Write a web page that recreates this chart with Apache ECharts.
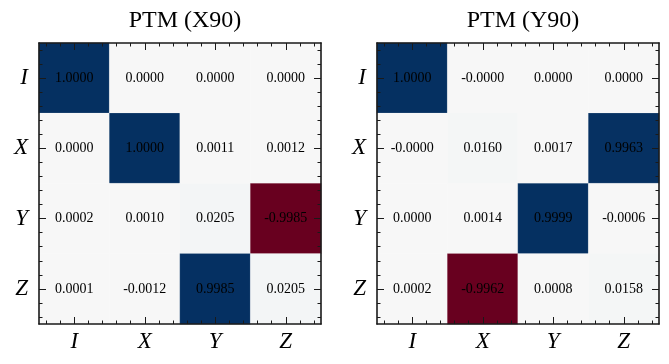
<!DOCTYPE html>
<html>
<head>
<meta charset="utf-8">
<script src="https://cdn.jsdelivr.net/npm/echarts@6/dist/echarts.min.js"></script>
<style>html,body{margin:0;padding:0;background:#fff}#c{width:669px;height:364px}</style>
</head>
<body>
<div id="c"></div>
<script>
// ---- data ----
var categories = ['I', 'X', 'Y', 'Z'];
var titles = ['PTM (X90)', 'PTM (Y90)'];
// rows: I, X, Y, Z ; columns: I, X, Y, Z
var ptmX90 = [
  [1.0000, 0.0000, 0.0000, 0.0000],
  [0.0000, 1.0000, 0.0011, 0.0012],
  [0.0002, 0.0010, 0.0205, -0.9985],
  [0.0001, -0.0012, 0.9985, 0.0205]
];
// "-0.0000" entries are tiny negative values
var ptmY90 = [
  [1.0000, -0.00001, 0.0000, 0.0000],
  [-0.00001, 0.0160, 0.0017, 0.9963],
  [0.0000, 0.0014, 0.9999, -0.0006],
  [0.0002, -0.9962, 0.0008, 0.0158]
];
var rdbu = ['#67001f','#b2182b','#d6604d','#f4a582','#fddbc7','#f7f7f7','#d1e5f0','#92c5de','#4393c3','#2166ac','#053061'];

// minor tick positions: 5 per cell
var minorCats = [];
for (var i = 0; i < categories.length * 5; i++) minorCats.push('m' + i);

var SERIF = '"Liberation Serif", "DejaVu Serif", serif';
var lineColor = '#1a1a1a';

function toCells(m) {
  var out = [];
  for (var r = 0; r < m.length; r++)
    for (var c = 0; c < m[r].length; c++)
      out.push([c, r, m[r][c]]);
  return out;
}

var grids = [
  {left: 39, top: 43, width: 282, height: 281},
  {left: 377, top: 43, width: 282, height: 281}
];

var xAxes = [], yAxes = [], series = [], titleOpts = [];
grids.forEach(function (g, gi) {
  titleOpts.push({
    text: titles[gi], left: g.left + g.width / 2, top: 4, textAlign: 'center',
    textStyle: {fontFamily: SERIF, fontSize: 24, fontWeight: 'normal', color: '#000'}
  });
  function major(pos, labels) {
    return {
      type: 'category', gridIndex: gi, position: pos, data: categories,
      boundaryGap: true,
      axisLine: {show: true, lineStyle: {color: lineColor, width: 1.6}},
      axisTick: {show: true, inside: true, alignWithLabel: true, length: 7, interval: 0, lineStyle: {color: lineColor, width: 1}},
      axisLabel: {show: labels, interval: 0, fontFamily: SERIF, fontStyle: 'italic', fontSize: 23, color: '#000', margin: pos === 'bottom' ? 6 : 11},
      splitLine: {show: false}, z: 10
    };
  }
  function minor(pos) {
    return {
      type: 'category', gridIndex: gi, position: pos, data: minorCats,
      boundaryGap: true,
      axisLine: {show: false},
      axisTick: {show: true, inside: true, alignWithLabel: true, length: 3.5, interval: 0, lineStyle: {color: lineColor, width: 1}},
      axisLabel: {show: false, interval: 0},
      splitLine: {show: false}, z: 10
    };
  }
  var xb = major('bottom', true), xt = major('top', false);
  var yl = major('left', true), yr = major('right', false);
  yl.inverse = true; yr.inverse = true;
  var ym1 = minor('left'), ym2 = minor('right');
  ym1.inverse = true; ym2.inverse = true;
  var xIdx = xAxes.length, yIdx = yAxes.length;
  xAxes.push(xb, xt, minor('bottom'), minor('top'));
  yAxes.push(yl, yr, ym1, ym2);
  series.push({
    type: 'heatmap', xAxisIndex: xIdx, yAxisIndex: yIdx,
    data: toCells(gi === 0 ? ptmX90 : ptmY90),
    itemStyle: {borderColor: 'rgba(255,255,255,0.25)', borderWidth: 0.6},
    label: {
      show: true, color: '#000', fontFamily: SERIF, fontSize: 14,
      formatter: function (p) { return p.value[2].toFixed(4); }
    },
    emphasis: {disabled: true}
  });
});

var chart = echarts.init(document.getElementById('c'), null, {renderer: 'canvas'});
chart.setOption({
  animation: false,
  backgroundColor: '#fff',
  title: titleOpts,
  grid: grids,
  xAxis: xAxes,
  yAxis: yAxes,
  visualMap: {
    show: false, type: 'continuous', min: -1, max: 1, seriesIndex: [0, 1], dimension: 2,
    inRange: {color: rdbu}
  },
  series: series
});
</script>
</body>
</html>
